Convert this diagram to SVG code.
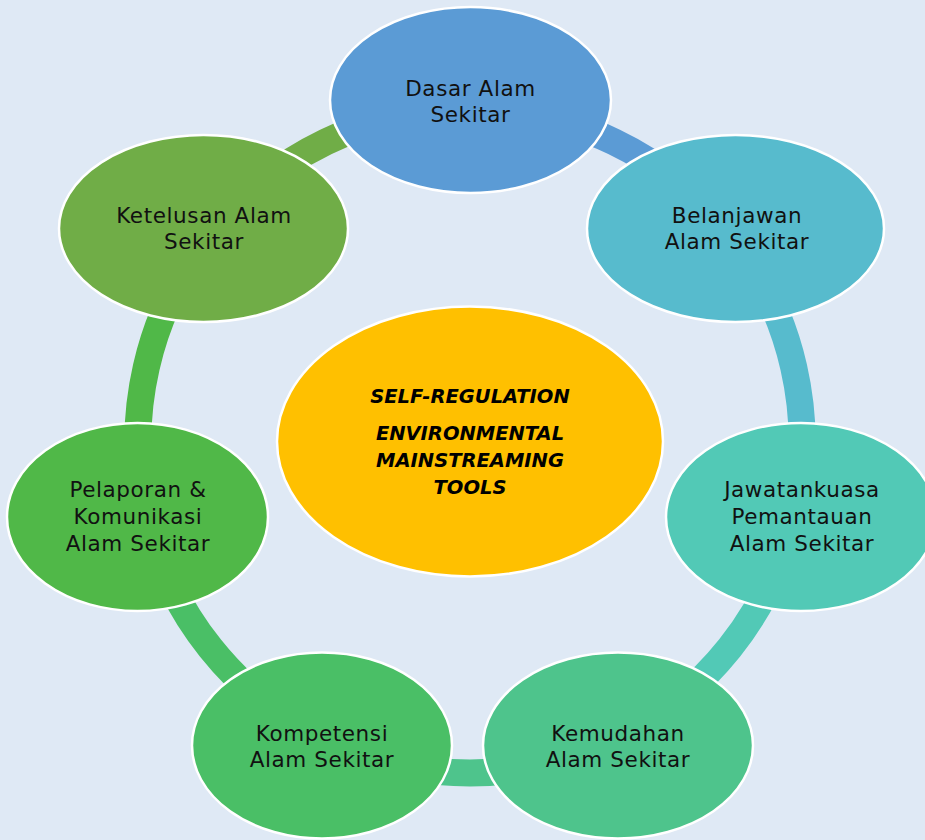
<svg xmlns="http://www.w3.org/2000/svg" width="925" height="840" viewBox="0 0 925 840">
<style>
.ring{fill:none;stroke-width:27}
.node ellipse{stroke:#ffffff;stroke-width:2.5}
.lbl{font-family:"DejaVu Sans","Liberation Sans",sans-serif;font-size:21.5px;letter-spacing:0.6px;fill:#111111;text-anchor:middle}
.ctr{font-family:"DejaVu Sans","Liberation Sans",sans-serif;font-size:19.5px;font-weight:bold;font-style:italic;fill:#000000;text-anchor:middle}
</style>
<rect x="0" y="0" width="925" height="840" fill="#dfe9f5"/>
<g id="connectors">
<path class="ring" stroke="#5b9bd5" d="M470,109 A332,332 0 0 1 729.6,234"/>
<path class="ring" stroke="#57bbcd" d="M729.6,234 A332,332 0 0 1 793.7,514.9"/>
<path class="ring" stroke="#52c9b6" d="M793.7,514.9 A332,332 0 0 1 614.1,740.1"/>
<path class="ring" stroke="#4ec48c" d="M614.1,740.1 A332,332 0 0 1 325.9,740.1"/>
<path class="ring" stroke="#4abf66" d="M325.9,740.1 A332,332 0 0 1 146.3,514.9"/>
<path class="ring" stroke="#50b848" d="M146.3,514.9 A332,332 0 0 1 210.4,234"/>
<path class="ring" stroke="#70ad47" d="M210.4,234 A332,332 0 0 1 470,109"/>
</g>
<g id="center" class="node">
<ellipse cx="470" cy="441.5" rx="193" ry="135" fill="#ffc000"/>
<text class="ctr" x="470" y="403">SELF-REGULATION</text>
<text class="ctr" x="470" y="440">ENVIRONMENTAL</text>
<text class="ctr" x="470" y="467">MAINSTREAMING</text>
<text class="ctr" x="470" y="494">TOOLS</text>
</g>
<g id="dasar" class="node">
<ellipse cx="470.5" cy="100" rx="140.5" ry="93" fill="#5b9bd5"/>
<text class="lbl" x="470.5" y="96">Dasar Alam</text>
<text class="lbl" x="470.5" y="122">Sekitar</text>
</g>
<g id="belanjawan" class="node">
<ellipse cx="735.5" cy="228.5" rx="148.5" ry="93.5" fill="#57bbcd"/>
<text class="lbl" x="737" y="223">Belanjawan</text>
<text class="lbl" x="737" y="249">Alam Sekitar</text>
</g>
<g id="jawatankuasa" class="node">
<ellipse cx="801" cy="517" rx="135" ry="94" fill="#52c9b6"/>
<text class="lbl" x="802" y="497">Jawatankuasa</text>
<text class="lbl" x="802" y="524">Pemantauan</text>
<text class="lbl" x="802" y="551">Alam Sekitar</text>
</g>
<g id="kemudahan" class="node">
<ellipse cx="618" cy="745.5" rx="135" ry="93" fill="#4ec48c"/>
<text class="lbl" x="618" y="741">Kemudahan</text>
<text class="lbl" x="618" y="767">Alam Sekitar</text>
</g>
<g id="kompetensi" class="node">
<ellipse cx="322" cy="745.5" rx="130" ry="93" fill="#4abf66"/>
<text class="lbl" x="322" y="741">Kompetensi</text>
<text class="lbl" x="322" y="767">Alam Sekitar</text>
</g>
<g id="pelaporan" class="node">
<ellipse cx="137.5" cy="517" rx="130.5" ry="94" fill="#50b848"/>
<text class="lbl" x="138" y="497">Pelaporan &amp;</text>
<text class="lbl" x="138" y="524">Komunikasi</text>
<text class="lbl" x="138" y="551">Alam Sekitar</text>
</g>
<g id="ketelusan" class="node">
<ellipse cx="203.5" cy="228.5" rx="144.5" ry="93.5" fill="#70ad47"/>
<text class="lbl" x="204" y="223">Ketelusan Alam</text>
<text class="lbl" x="204" y="249">Sekitar</text>
</g>
</svg>
